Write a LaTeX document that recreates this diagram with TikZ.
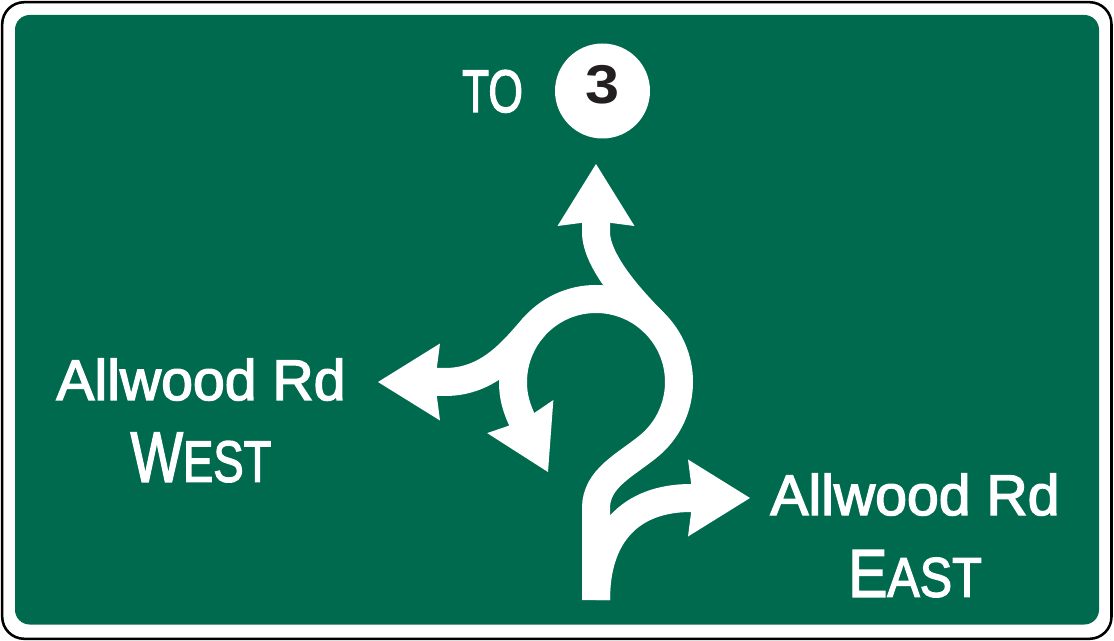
\documentclass[tikz,border=0pt]{standalone}
\usepackage{fontspec}
\setmainfont{Liberation Sans}
\newfontfamily\signfont{Liberation Sans}[RawFeature={embolden=2.5}]
\definecolor{signgreen}{RGB}{0,106,78}
\definecolor{shieldblack}{RGB}{35,31,32}

\tikzset{every picture/.style={line width=0.75pt}}
\tikzset{
  road/.style={draw=white, line width=21pt},
  headfill/.style={fill=white, draw=none},
  signtext/.style={text=white, inner sep=0pt, font=\signfont\fontsize{42.9}{50}\selectfont}
}

\begin{document}
\begin{tikzpicture}[x=0.75pt,y=0.75pt,yscale=-1,xscale=1]
\useasboundingbox (0,0) rectangle (1114,641);

%Shape: Rounded Rectangle [id:frame]
\draw [fill=white, line width=1.9pt, rounded corners=16.5pt] (2.2,2.2) rectangle (1111.5,638.8);
%Shape: Rounded Rectangle [id:panel]
\fill [signgreen, rounded corners=11pt] (15,15) rectangle (1099,624.5);
%Shape: Circle [id:shield]
\fill [white] (602.5,91) circle [radius=47.5];

%Curve Lines [id:entry and ring]
\draw [road] (596,600) -- (596,508) .. controls (596,478) and (626,465) .. (649.35,445.58) arc [start angle=50, end angle=-180, radius=83] .. controls (513,396) and (516,408) .. (523.9,423.7);
%Curve Lines [id:north exit]
\draw [road] (654.7,323.3) .. controls (633.5,302) and (596,262) .. (596,232) -- (596,218);
%Curve Lines [id:west exit]
\draw [road] (534.3,326.5) .. controls (514.2,348.8) and (490,382) .. (445,382) -- (432,382);
%Curve Lines [id:east exit]
\draw [road] (596,600) .. controls (596,535) and (630,498) .. (691,498) -- (696,498);

%Shape: Arrow Head [id:north head]
\fill [headfill, shift={(596,164)}, rotate=90] (0,0) -- (62,-38.5) -- (57,0) -- (62,38.5) -- cycle;
%Shape: Arrow Head [id:west head]
\fill [headfill, shift={(378,382)}, rotate=0] (0,0) -- (62,-38.5) -- (57,0) -- (62,38.5) -- cycle;
%Shape: Arrow Head [id:east head]
\fill [headfill, shift={(750,498)}, rotate=180] (0,0) -- (62,-38.5) -- (57,0) -- (62,38.5) -- cycle;
%Shape: Arrow Head [id:uturn head]
\fill [headfill, shift={(548,472)}, rotate=243.43] (0,0) -- (62,-37) -- (57,0) -- (62,37) -- cycle;

% Text Node
\draw (492.5,112) node [signtext, anchor=base, xscale=0.74, font=\signfont\fontsize{45}{50}\selectfont] (tolabel) {TO};
% Text Node
\draw (602.5,103.5) node [anchor=base, inner sep=0pt, text=shieldblack, xscale=1.12, font=\bfseries\fontsize{41}{45}\selectfont] (routenum) {3};
% Text Node
\draw (201,400) node [signtext, anchor=base] (westroad) {Allwood Rd};
% Text Node
\draw (201,481.7) node [signtext, anchor=base, xscale=0.78] (westdir) {{\fontsize{53.4}{60}\selectfont W}{\fontsize{43.7}{50}\selectfont EST}};
% Text Node
\draw (915,515) node [signtext, anchor=base] (eastroad) {Allwood Rd};
% Text Node
\draw (915,596.7) node [signtext, anchor=base, xscale=0.87] (eastdir) {{\fontsize{50.6}{60}\selectfont E}{\fontsize{41.9}{50}\selectfont AST}};

\end{tikzpicture}
\end{document}
